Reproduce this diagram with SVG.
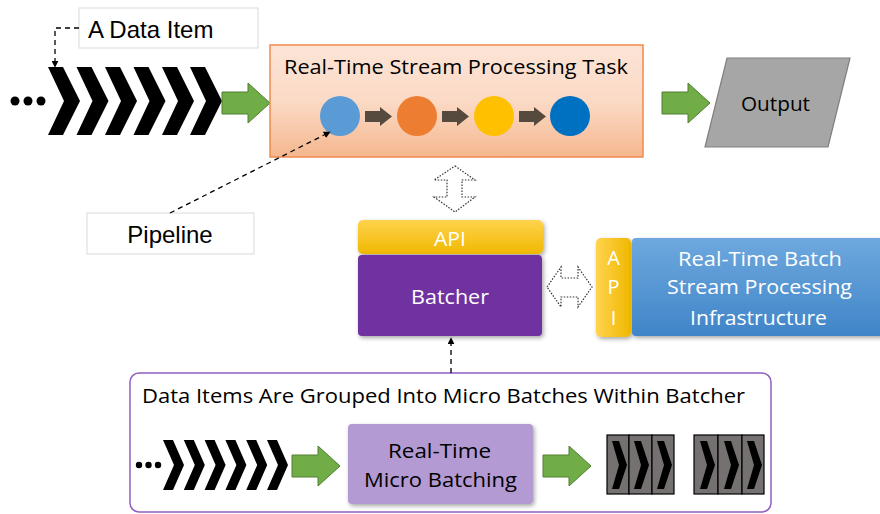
<svg xmlns="http://www.w3.org/2000/svg" width="880" height="514" viewBox="0 0 880 514">
<defs>
<linearGradient id="gOrange" x1="0" y1="0" x2="0" y2="1">
<stop offset="0" stop-color="#fce4d6"/><stop offset="0.5" stop-color="#fbdac6"/><stop offset="1" stop-color="#f5b78e"/>
</linearGradient>
<linearGradient id="gYellow" x1="0" y1="0" x2="0" y2="1">
<stop offset="0" stop-color="#ffd34d"/><stop offset="1" stop-color="#f0b800"/>
</linearGradient>
<linearGradient id="gYellowH" x1="0" y1="0" x2="1" y2="0">
<stop offset="0" stop-color="#ffd34d"/><stop offset="1" stop-color="#f0b800"/>
</linearGradient>
<linearGradient id="gBlue" x1="0" y1="0" x2="0" y2="1">
<stop offset="0" stop-color="#6ea8de"/><stop offset="1" stop-color="#4085c8"/>
</linearGradient>
<filter id="sh" x="-10%" y="-10%" width="125%" height="130%">
<feDropShadow dx="1.5" dy="2" stdDeviation="2" flood-color="#000" flood-opacity="0.35"/>
</filter>
<marker id="ah" viewBox="0 0 10 10" refX="9" refY="5" markerWidth="7" markerHeight="7" orient="auto-start-reverse" markerUnits="userSpaceOnUse">
<path d="M0,0 L10,5 L0,10 z" fill="#000"/>
</marker>
<path id="chevBig" d="M0,0 L15,0 L32,34 L15,68 L0,68 L16,34 z"/>
<path id="chevSmall" d="M0,0 L10,0 L21,25 L10,50 L0,50 L11,25 z"/>
<path id="chevCell" d="M5,6 L12,6 L20,30 L12,54 L5,54 L12,30 z"/>
<path id="greenArrow" d="M0,9 L26,9 L26,0 L48,20 L26,40 L26,31 L0,31 z"/>
</defs>
<style>
.arial{font-family:"Liberation Sans",Arial,sans-serif;}
.cal{font-family:"Open Sans","Noto Sans",sans-serif;font-size:20px;}
.label{fill:#fff;stroke:#d9d9d9;stroke-width:1;}
.green{fill:#70ad47;stroke:#507e32;stroke-width:1;}
.dashed{fill:none;stroke:#000;stroke-width:1.3;stroke-dasharray:5,4;}
.dotted{fill:#fff;stroke:#333;stroke-width:1.2;stroke-dasharray:1.5,1.5;}
.cell{fill:#767171;stroke:#000;stroke-width:1.2;}
</style>

<!-- Top stream of data items -->
<g id="topStream">
<circle cx="15" cy="101" r="4.5"/>
<circle cx="28" cy="101" r="4.5"/>
<circle cx="41" cy="101" r="4.5"/>
<use href="#chevBig" x="48" y="67"/>
<use href="#chevBig" x="76.5" y="67"/>
<use href="#chevBig" x="105" y="67"/>
<use href="#chevBig" x="133.5" y="67"/>
<use href="#chevBig" x="162" y="67"/>
<use href="#chevBig" x="190" y="67"/>
</g>

<g id="labelDataItem">
<rect class="label" x="79" y="8" width="179" height="40"/>
<text class="arial" x="88" y="38" font-size="24" fill="#000">A Data Item</text>
</g>

<g id="arrowIn"><use href="#greenArrow" class="green" x="222" y="83"/></g>

<g id="task">
<rect x="270" y="45" width="373" height="112" fill="url(#gOrange)" stroke="#f08a4b" stroke-width="1.5"/>
<text class="cal" x="284" y="74" textLength="344" lengthAdjust="spacingAndGlyphs" fill="#000">Real-Time Stream Processing Task</text>
<circle cx="340" cy="116" r="20" fill="#5b9bd5"/>
<circle cx="417" cy="116" r="20" fill="#ed7d31"/>
<circle cx="494" cy="116" r="20" fill="#ffc000"/>
<circle cx="570" cy="116" r="20" fill="#0070c0"/>
<g fill="#564a3f">
<path d="M365,111 L380,111 L380,107 L392,116.5 L380,126 L380,122 L365,122 z"/>
<path d="M442,111 L457,111 L457,107 L469,116.5 L457,126 L457,122 L442,122 z"/>
<path d="M519,111 L534,111 L534,107 L546,116.5 L534,126 L534,122 L519,122 z"/>
</g>
</g>

<g id="arrowOut"><use href="#greenArrow" class="green" x="662" y="83"/></g>

<g id="output">
<path d="M727,58 L850,58 L828,147 L705,147 z" fill="#a6a6a6" stroke="#7f7f7f" stroke-width="1.2"/>
<text class="cal" x="741" y="111" textLength="69" lengthAdjust="spacingAndGlyphs" fill="#000">Output</text>
</g>

<g id="labelPipeline">
<rect class="label" x="87" y="213" width="167" height="41"/>
<text class="arial" x="170" y="243" font-size="24" text-anchor="middle" fill="#000">Pipeline</text>
</g>

<g id="batcherApi">
<rect x="358" y="220" width="185" height="34" rx="5" fill="url(#gYellow)" filter="url(#sh)"/>
<text class="cal" x="434" y="246" textLength="32" lengthAdjust="spacingAndGlyphs" fill="#fff">API</text>
</g>

<g id="batcher">
<rect x="358" y="255" width="184" height="81" rx="4" fill="#7030a0" filter="url(#sh)"/>
<text class="cal" x="411" y="304" textLength="78" lengthAdjust="spacingAndGlyphs" fill="#fff">Batcher</text>
</g>

<g id="infraApi">
<rect x="596" y="238" width="35" height="99" rx="5" fill="url(#gYellowH)" filter="url(#sh)"/>
<text class="cal" x="613.5" y="265" text-anchor="middle" fill="#fff">A</text>
<text class="cal" x="613.5" y="294" text-anchor="middle" fill="#fff">P</text>
<text class="cal" x="613.5" y="325" text-anchor="middle" fill="#fff">I</text>
</g>

<g id="infra">
<rect x="632" y="238" width="252" height="98" rx="4" fill="url(#gBlue)" filter="url(#sh)"/>
<text class="cal" x="678" y="266" textLength="164" lengthAdjust="spacingAndGlyphs" fill="#fff">Real-Time Batch</text>
<text class="cal" x="667" y="294" textLength="185" lengthAdjust="spacingAndGlyphs" fill="#fff">Stream Processing</text>
<text class="cal" x="690" y="325" textLength="137" lengthAdjust="spacingAndGlyphs" fill="#fff">Infrastructure</text>
</g>

<g id="container">
<rect x="130" y="373" width="641" height="139" rx="9" fill="none" stroke="#8f5fc2" stroke-width="1.5"/>
<text class="cal" x="142" y="403" textLength="603" lengthAdjust="spacingAndGlyphs" fill="#000">Data Items Are Grouped  Into Micro Batches Within Batcher</text>
</g>

<g id="bottomStream">
<circle cx="139" cy="465" r="3.2"/>
<circle cx="148.5" cy="465" r="3.2"/>
<circle cx="158" cy="465" r="3.2"/>
<use href="#chevSmall" x="163" y="440"/>
<use href="#chevSmall" x="183.8" y="440"/>
<use href="#chevSmall" x="204.6" y="440"/>
<use href="#chevSmall" x="225.4" y="440"/>
<use href="#chevSmall" x="246.2" y="440"/>
<use href="#chevSmall" x="267" y="440"/>
</g>

<g id="arrowMicroIn"><use href="#greenArrow" class="green" x="292" y="446"/></g>

<g id="microBatching">
<rect x="348" y="424" width="185" height="80" rx="4" fill="#b39ad3" filter="url(#sh)"/>
<text class="cal" x="388" y="458" textLength="103" lengthAdjust="spacingAndGlyphs" fill="#000">Real-Time</text>
<text class="cal" x="364" y="487" textLength="153" lengthAdjust="spacingAndGlyphs" fill="#000">Micro Batching</text>
</g>

<g id="arrowMicroOut"><use href="#greenArrow" class="green" x="543" y="446"/></g>

<g id="batch1">
<rect class="cell" x="607" y="435" width="22" height="59"/>
<rect class="cell" x="629" y="435" width="23" height="59"/>
<rect class="cell" x="652" y="435" width="22" height="59"/>
<use href="#chevCell" x="607" y="435"/>
<use href="#chevCell" x="629" y="435"/>
<use href="#chevCell" x="652" y="435"/>
</g>

<g id="batch2">
<rect class="cell" x="694" y="435" width="24" height="59"/>
<rect class="cell" x="718" y="435" width="24" height="59"/>
<rect class="cell" x="742" y="435" width="22" height="59"/>
<use href="#chevCell" x="695" y="435"/>
<use href="#chevCell" x="719" y="435"/>
<use href="#chevCell" x="742" y="435"/>
</g>

<g id="connectors">
<path class="dashed" d="M79,28 L55,28 L55,67" marker-end="url(#ah)"/>
<path class="dashed" d="M170,213 L330,132" marker-end="url(#ah)"/>
<path class="dashed" d="M451,373 L451,338" marker-end="url(#ah)"/>
<path class="dotted" d="M455,166 L475,180 L462,180 L462,197 L475,197 L455,212 L434,197 L447,197 L447,180 L434,180 z"/>
<path class="dotted" d="M547,287 L561,267 L561,278 L578,278 L578,267 L592,287 L578,307 L578,297 L561,297 L561,307 z"/>
</g>
</svg>
